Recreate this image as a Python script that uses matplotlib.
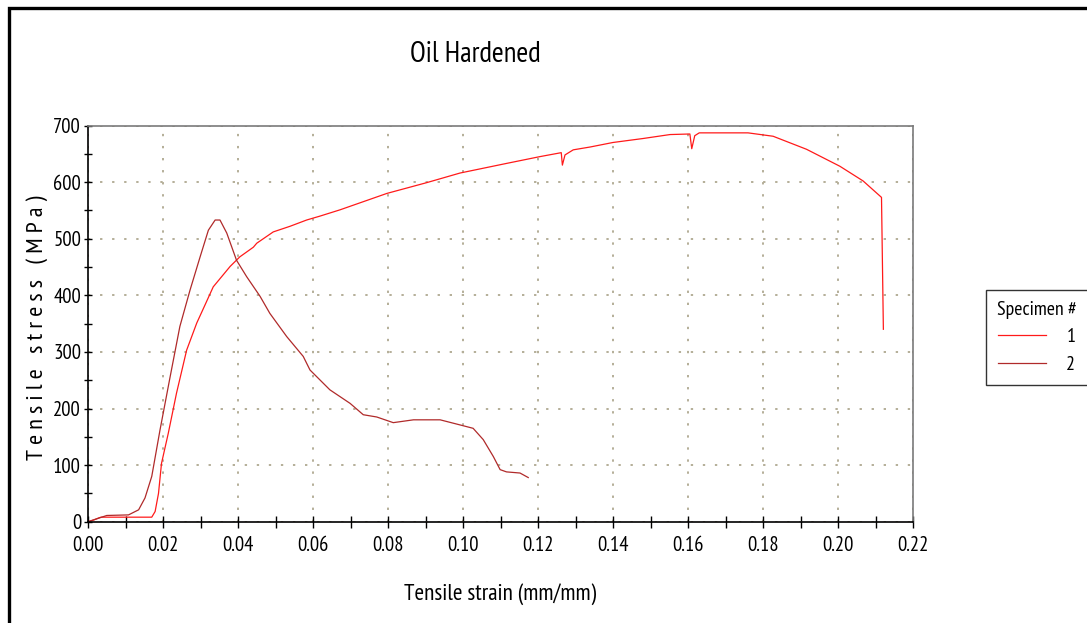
import os
import matplotlib
matplotlib.use("Agg")
import matplotlib.pyplot as plt
from matplotlib import font_manager as fm
from matplotlib.patches import Rectangle
from matplotlib.ticker import MultipleLocator, FormatStrFormatter

# ---------------- data ----------------
strain_1 = [0.0, 0.0015, 0.003, 0.0035, 0.0170, 0.0179, 0.0188, 0.0196, 0.0214,
            0.0236, 0.0263, 0.0290, 0.0310, 0.0334, 0.0379, 0.0405, 0.0441,
            0.0450, 0.0494, 0.0539, 0.0583, 0.0619, 0.0672, 0.0797, 0.0903,
            0.0992, 0.1116, 0.1205, 0.1262, 0.1265, 0.1272, 0.1294, 0.1339,
            0.1400, 0.1480, 0.1552, 0.1605, 0.1610, 0.1618, 0.1630, 0.1760,
            0.1827, 0.1916, 0.2005, 0.2067, 0.2116, 0.2121]
stress_1 = [0, 3, 7, 8, 8, 18, 50, 103, 156,
            227, 303, 351, 380, 415, 451, 468, 485,
            492, 512, 522, 533, 540, 551, 580, 599,
            616, 633, 645, 652, 630, 648, 657, 662,
            670, 677, 684, 685, 659, 682, 687, 687,
            681, 658, 628, 602, 573, 340]

strain_2 = [0.0, 0.0023, 0.0050, 0.0108, 0.0135, 0.0152, 0.0170, 0.0192, 0.0219,
            0.0245, 0.0272, 0.0299, 0.0321, 0.0339, 0.0352, 0.0370, 0.0396,
            0.0423, 0.0459, 0.0485, 0.0530, 0.0574, 0.0592, 0.0645, 0.0699,
            0.0734, 0.0770, 0.0814, 0.0868, 0.0939, 0.0992, 0.1027, 0.1054,
            0.1081, 0.1099, 0.1116, 0.1152, 0.1174]
stress_2 = [0, 5, 11, 12, 21, 42, 80, 162, 256,
            345, 409, 468, 515, 533, 533, 510, 462,
            433, 398, 368, 327, 292, 268, 233, 209,
            189, 185, 175, 180, 180, 171, 165, 145,
            115, 92, 88, 86, 78]

specimen_labels = ["1", "2"]
legend_title = "Specimen #"
title_text = "Oil Hardened"
xlabel_text = "Tensile strain (mm/mm)"
ylabel_text = "T e n s i l e   s t r e s s   ( M P a )"


# ---------------- fonts: look for a narrow / condensed sans ----------------
def pick_font_file():
    flist = fm.fontManager.ttflist
    bad = ("bold", "italic", "oblique", "light", "semibold", "medium",
           "black", "thin", "extra", "heavy", "mono", "serif")
    def ok(f):
        b = os.path.basename(f.fname).lower()
        return not any(k in b for k in bad)
    for f in flist:
        if f.name == "Liberation Sans Narrow" and ok(f):
            return f.fname
    for key in ("narrow", "condensed"):
        for f in flist:
            b = os.path.basename(f.fname).lower()
            if key in b and ok(f) and "sans" in b:
                return f.fname
        for f in flist:
            b = os.path.basename(f.fname).lower()
            if key in b and ok(f):
                return f.fname
    return None


ffile = pick_font_file()


def FP(size):
    if ffile:
        return fm.FontProperties(fname=ffile, size=size)
    return fm.FontProperties(family="DejaVu Sans", size=size)


W, H = 1087, 623
fig = plt.figure(figsize=(W / 100, H / 100), dpi=100)
fig.patch.set_facecolor("white")

ax = fig.add_axes([88 / W, 1 - 521.7 / H, (913 - 88) / W, (521.7 - 125.5) / H])

c1 = "#ff1a1a"
c2 = "#b02a2a"
ax.plot(strain_1, stress_1, color=c1, lw=0.9, label=specimen_labels[0])
ax.plot(strain_2, stress_2, color=c2, lw=0.9, label=specimen_labels[1])

ax.set_xlim(0, 0.22)
ax.set_ylim(0, 700)
ax.xaxis.set_major_locator(MultipleLocator(0.02))
ax.xaxis.set_minor_locator(MultipleLocator(0.01))
ax.xaxis.set_major_formatter(FormatStrFormatter("%.2f"))
ax.yaxis.set_major_locator(MultipleLocator(100))
ax.yaxis.set_minor_locator(MultipleLocator(50))

ax.grid(True, which="major", color="#b4ae98", linestyle=(0, (1.2, 5)), lw=1.4)
ax.set_axisbelow(True)

ax.tick_params(axis="x", which="both", direction="inout", length=9, width=1,
               pad=6, color="black")
ax.tick_params(axis="y", which="both", direction="inout", length=6, width=1,
               pad=2, color="black")
for side in ["left", "bottom"]:
    ax.spines[side].set_color("black")
    ax.spines[side].set_linewidth(1.2)
for side in ["top", "right"]:
    ax.spines[side].set_color("#7a7a7a")
    ax.spines[side].set_linewidth(1.2)

t_title = fig.text(475 / W, 1 - 55 / H, title_text, ha="center", va="center",
                   fontproperties=FP(20))
t_xl = fig.text(500 / W, 1 - 594 / H, xlabel_text, ha="center", va="center",
                fontproperties=FP(15))
t_yl = fig.text(37 / W, 1 - 328 / H, ylabel_text, ha="center", va="center",
                rotation=90, fontproperties=FP(15))

# size the texts so their widths match the reference
renderer = fig.canvas.get_renderer()


def fit(txt, target, size, vertical=False):
    txt.set_fontproperties(FP(size))
    bb = txt.get_window_extent(renderer)
    w = bb.height if vertical else bb.width
    new = size * target / w
    txt.set_fontproperties(FP(new))
    return new


fit(t_title, 130, 20)
fit(t_xl, 192, 15)
fit(t_yl, 265, 15, vertical=True)

probe = fig.text(0, 0, "0.02", fontproperties=FP(14))
tick_size = fit(probe, 32, 14)
probe.remove()
probe = fig.text(0, 0, legend_title, fontproperties=FP(14))
leg_size = fit(probe, 80, 14)
probe.remove()
em = leg_size * 100 / 72.0  # legend em in pixels

for lbl in ax.get_xticklabels() + ax.get_yticklabels():
    lbl.set_fontproperties(FP(tick_size))

leg = fig.legend(loc="upper left", bbox_to_anchor=(986 / W, 1 - 290 / H),
                 title=legend_title, prop=FP(leg_size),
                 title_fontproperties=FP(leg_size),
                 frameon=True, fancybox=False, edgecolor="black",
                 handlelength=48 / em, handletextpad=20 / em,
                 borderpad=0.55, labelspacing=0.48, borderaxespad=0)
leg.get_frame().set_linewidth(1.0)

# outer frame of the picture
fig.patches.append(Rectangle((9 / W, -0.2), 1.2, 1 - 7.5 / H + 0.2,
                             transform=fig.transFigure, fill=False,
                             edgecolor="black", lw=2.4, zorder=10))

fig.savefig("out.png", dpi=100)
